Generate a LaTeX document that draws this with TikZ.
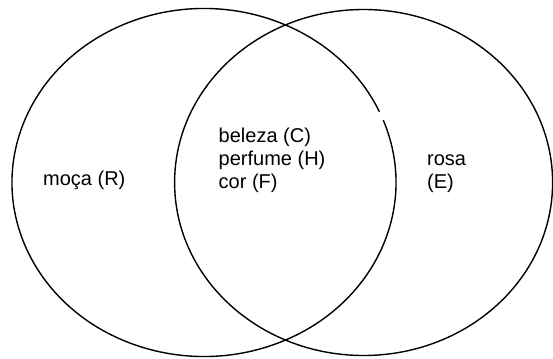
\documentclass[tikz,border=0pt]{standalone}
\usepackage{fontspec}
\setmainfont{Liberation Sans}
\begin{document}
\begin{tikzpicture}[x=1pt,y=1pt,
  setline/.style={line width=1.4pt, black},
  lbl/.style={font=\fontsize{20}{23}\selectfont, align=left, inner sep=0pt, anchor=base west}]
\useasboundingbox (0,0) rectangle (553,-358);
% left set (with a small break on its right side)
\draw[setline] ({204+192*cos(24)},{-182.5+174*sin(24)}) arc[start angle=24, end angle=381, x radius=192, y radius=174];
% right set
\draw[setline] (363.6,-182.5) ellipse [x radius=189, y radius=173];
\node[lbl] (moca) at (43,-185) {moça (R)};
\node[lbl] (inter) at (218.5,-188) {beleza (C)\\perfume (H)\\cor (F)};
\node[lbl] (rosa) at (427,-188) {rosa\\(E)};
\end{tikzpicture}
\end{document}
